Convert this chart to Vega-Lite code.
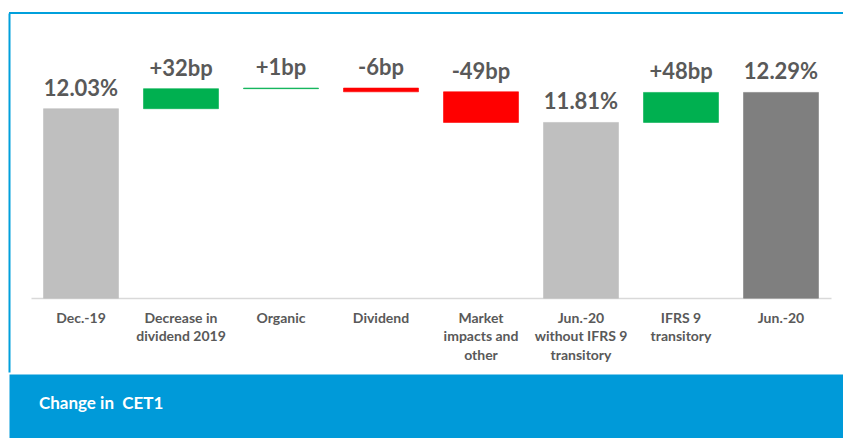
{
  "$schema": "https://vega.github.io/schema/vega-lite/v6.json",
  "background": "white",
  "padding": {"left": 7, "top": 11, "right": 0, "bottom": 0},
  "spacing": 0,
  "config": {"concat": {"spacing": 0}, "view": {"stroke": "transparent"}},
  "vconcat": [
    {
      "width": 835,
      "height": 359,
      "view": {"stroke": "transparent", "fill": null},
      "data": {
        "values": [
          {"cat": "Dec.-19", "start": 9.0, "end": 12.03, "kind": "total", "label": "12.03%"},
          {"cat": "Decrease in|dividend 2019", "start": 12.03, "end": 12.35, "kind": "up", "label": "+32bp"},
          {"cat": "Organic", "start": 12.35, "end": 12.36, "kind": "up", "label": "+1bp"},
          {"cat": "Dividend", "start": 12.36, "end": 12.30, "kind": "down", "label": "-6bp"},
          {"cat": "Market|impacts and|other", "start": 12.30, "end": 11.81, "kind": "down", "label": "-49bp"},
          {"cat": "Jun.-20|without IFRS 9|transitory", "start": 9.0, "end": 11.81, "kind": "total", "label": "11.81%"},
          {"cat": "IFRS 9|transitory", "start": 11.81, "end": 12.29, "kind": "up", "label": "+48bp"},
          {"cat": "Jun.-20", "start": 9.0, "end": 12.29, "kind": "final", "label": "12.29%"}
        ]
      },
      "transform": [{"calculate": "max(datum.start, datum.end)", "as": "top"}],
      "layer": [
        {
          "mark": {"type": "bar", "strokeWidth": 0.6},
          "encoding": {
            "x": {
              "field": "cat",
              "type": "nominal",
              "sort": null,
              "scale": {"range": [22, 822], "paddingInner": 0.25, "paddingOuter": 0.125},
              "axis": {
                "title": null,
                "orient": "bottom",
                "offset": -74,
                "labelAngle": 0,
                "ticks": false,
                "tickSize": 0,
                "labelPadding": 13,
                "labelFont": "Lato",
                "labelFontWeight": "bold",
                "labelFontSize": 14,
                "labelColor": "#595959",
                "labelLineHeight": 18.5,
                "labelOverlap": false,
                "labelLimit": 200,
                "labelExpr": "split(datum.value, '|')",
                "domainColor": "#d9d9d9",
                "domainWidth": 1.5,
                "grid": false
              }
            },
            "y": {
              "field": "start",
              "type": "quantitative",
              "scale": {"domain": [7.82, 13.56], "nice": false, "zero": false},
              "axis": {"orient": "left", "title": null, "labels": false, "ticks": false, "grid": false, "domain": true, "domainColor": "#00a0dc", "domainWidth": 2}
            },
            "y2": {"field": "end"},
            "color": {
              "field": "kind",
              "type": "nominal",
              "scale": {"domain": ["total", "up", "down", "final"], "range": ["#bfbfbf", "#00b050", "#ff0000", "#7f7f7f"]},
              "legend": null
            },
            "stroke": {
              "field": "kind",
              "type": "nominal",
              "scale": {"domain": ["total", "up", "down", "final"], "range": ["#bfbfbf", "#00b050", "#ff0000", "#7f7f7f"]},
              "legend": null
            }
          }
        },
        {
          "mark": {"type": "text", "font": "Lato", "fontWeight": "bold", "fontSize": 22, "color": "#595959", "baseline": "alphabetic", "dy": -13},
          "encoding": {
            "x": {"field": "cat", "type": "nominal", "sort": null},
            "y": {"field": "top", "type": "quantitative"},
            "text": {"field": "label"}
          }
        },
        {
          "data": {"values": [{"edge": 13.56}]},
          "mark": {"type": "rule", "color": "#00a0dc", "strokeWidth": 2},
          "encoding": {
            "y": {"field": "edge", "type": "quantitative"}
          }
        }
      ]
    },
    {
      "width": 835,
      "height": 67,
      "view": {"fill": "#009ad9", "stroke": "transparent"},
      "title": {
        "text": "Change in\u00a0 CET1",
        "orient": "top",
        "anchor": "start",
        "offset": -52,
        "dx": 30,
        "baseline": "alphabetic",
        "font": "Lato",
        "fontWeight": "bold",
        "fontSize": 17,
        "color": "white"
      },
      "data": {"values": [{"t": 0}]},
      "mark": {"type": "point", "opacity": 0},
      "encoding": {}
    }
  ]
}
